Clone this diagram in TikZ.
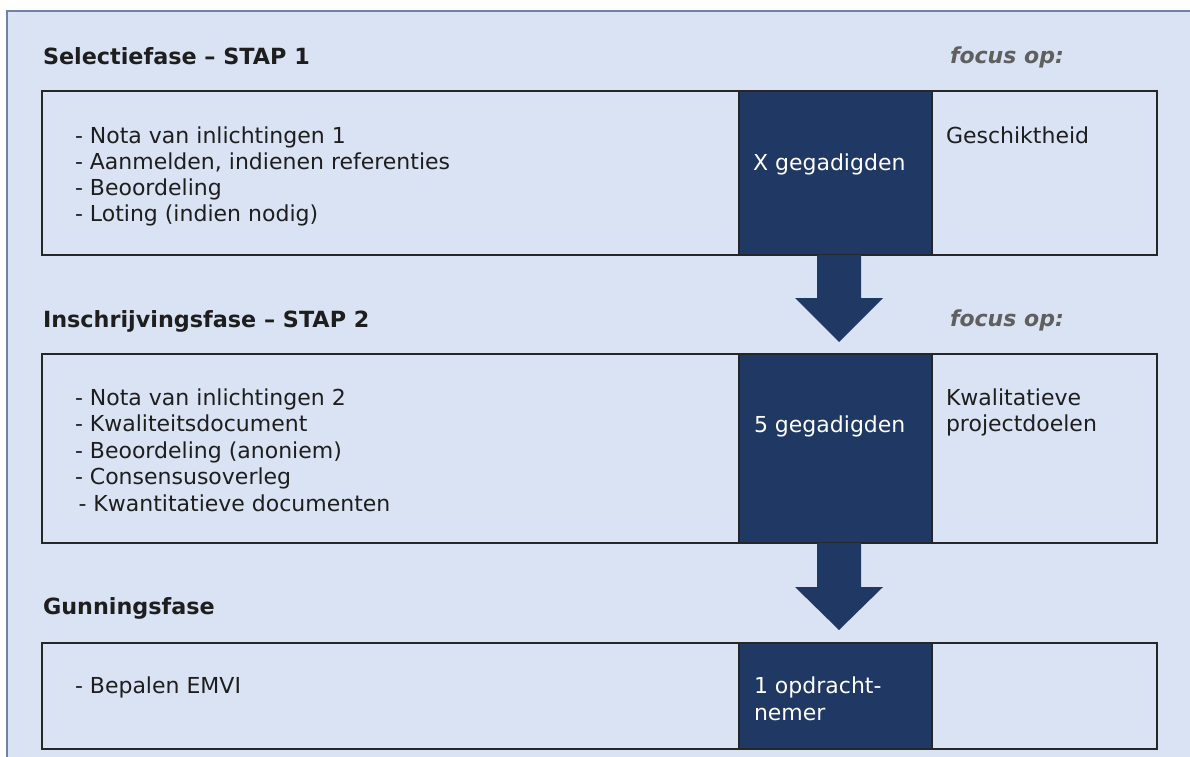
\documentclass[tikz,border=0pt]{standalone}
\usepackage{fontspec}
\setmainfont{DejaVu Sans}
\usetikzlibrary{calc}
\definecolor{bgblue}{HTML}{DAE3F3}
\definecolor{navy}{HTML}{203864}
\definecolor{framec}{HTML}{6E83A8}
\definecolor{focusgray}{HTML}{5F5F5F}
\definecolor{txt}{HTML}{1E1E1E}
\begin{document}
\begin{tikzpicture}[x=1pt,y=-1pt,
  every node/.style={inner sep=0pt, outer sep=0pt},
  txtline/.style={anchor=base west, text=txt, font=\fontsize{22}{26.5}\selectfont},
  wline/.style={anchor=base west, text=white, font=\fontsize{22}{26.5}\selectfont},
  ttl/.style={anchor=base west, text=txt, font=\fontsize{22.3}{26.5}\selectfont\bfseries},
  focus/.style={anchor=base west, text=focusgray, font=\fontsize{22}{26.5}\selectfont\bfseries\itshape},
  stagebox/.style={draw=black!85, line width=1.3pt, fill=bgblue, anchor=north west, minimum width=1115pt, minimum height=#1},
  darkcol/.style={draw=black!85, line width=1.3pt, fill=navy, anchor=north west, minimum width=193pt, minimum height=#1},
  bigarrow/.style={fill=navy}
]
\useasboundingbox (0,0) rectangle (1190,756);
\fill[white] (0,0) rectangle (1190,756);
\begin{scope}
  \clip (0,0) rectangle (1190,756);
  \draw[framec, line width=1.2pt, fill=bgblue] (7,11) rectangle (1220,790);
\end{scope}

% titles
\node[ttl] (t1) at (43,64) {Selectiefase – STAP 1};
\node[focus] (f1) at (950,63) {focus op:};
\node[ttl] (t2) at (43,327) {Inschrijvingsfase – STAP 2};
\node[focus] (f2) at (950,326) {focus op:};
\node[ttl] (t3) at (43,614) {Gunningsfase};

% stage 1
\node[stagebox=164pt] (b1) at (42,91) {};
\node[darkcol=164pt] (d1) at (739,91) {};
\node[txtline] (l11) at (75,143) {- Nota van inlichtingen 1};
\node[txtline] (l12) at (75,169) {- Aanmelden, indienen referenties};
\node[txtline] (l13) at (75,195) {- Beoordeling};
\node[txtline] (l14) at (75,221) {- Loting (indien nodig)};
\node[wline] (n1) at (753,170) {X gegadigden};
\node[txtline] (g1) at (946,143) {Geschiktheid};

% stage 2
\node[stagebox=189pt] (b2) at (42,354) {};
\node[darkcol=189pt] (d2) at (739,354) {};
\node[txtline] (l21) at (75,405) {- Nota van inlichtingen 2};
\node[txtline] (l22) at (75,431.5) {- Kwaliteitsdocument};
\node[txtline] (l23) at (75,458) {- Beoordeling (anoniem)};
\node[txtline] (l24) at (75,484.5) {- Consensusoverleg};
\node[txtline] (l25) at (78.5,511) {- Kwantitatieve documenten};
\node[wline] (n2) at (754,432) {5 gegadigden};
\node[txtline] (g2a) at (946,405) {Kwalitatieve};
\node[txtline] (g2b) at (946,431.5) {projectdoelen};

% stage 3
\node[stagebox=106pt] (b3) at (42,643) {};
\node[darkcol=106pt] (d3) at (739,643) {};
\node[txtline] (l31) at (75,693) {- Bepalen EMVI};
\node[wline] (n3a) at (754,693) {1 opdracht-};
\node[wline] (n3b) at (754,720) {nemer};

% arrows
\fill[bigarrow] ($(d1.south)+(3.5,0)$) ++(-22,0) -- ++(44,0) -- ++(0,43) -- ++(22,0) -- ++(-44,44) -- ++(-44,-44) -- ++(22,0) -- cycle;
\fill[bigarrow] ($(d2.south)+(3.5,0)$) ++(-22,0) -- ++(44,0) -- ++(0,44) -- ++(22,0) -- ++(-44,43) -- ++(-44,-43) -- ++(22,0) -- cycle;
\end{tikzpicture}
\end{document}
